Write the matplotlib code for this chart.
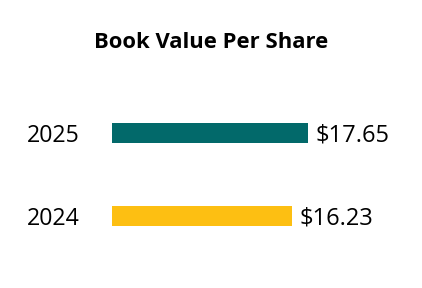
import matplotlib.pyplot as plt

# Data
years = ['2024', '2025']
values = [16.23, 17.65]
colors = ['#FDBF12', '#02696A']

plt.rcParams['font.family'] = ['Open Sans', 'DejaVu Sans']

fig = plt.figure(figsize=(4.22, 2.88), dpi=100)
ax = fig.add_axes([112 / 422, 0.1059, 300 / 422, 0.5764])

ypos = list(range(len(years)))
ax.barh(ypos, values, height=0.24, color=colors)

for y, v in zip(ypos, values):
    ax.annotate(f'${v:.2f}', xy=(v, y), xytext=(5.5, 0), textcoords='offset points',
                va='center_baseline', ha='left', fontsize=17)

ax.set_xlim(0, 27)
ax.set_ylim(-0.5, 1.5)
ax.set_yticks(ypos)
ax.set_yticklabels(years, fontsize=16.7)
ax.tick_params(axis='y', length=0, pad=23)
ax.set_xticks([])
for s in ax.spines.values():
    s.set_visible(False)

fig.text(0.5, 1 - 42 / 288, 'Book Value Per Share', ha='center', va='center',
         fontsize=15.8, fontweight='bold')

fig.savefig('out.png', dpi=100)
